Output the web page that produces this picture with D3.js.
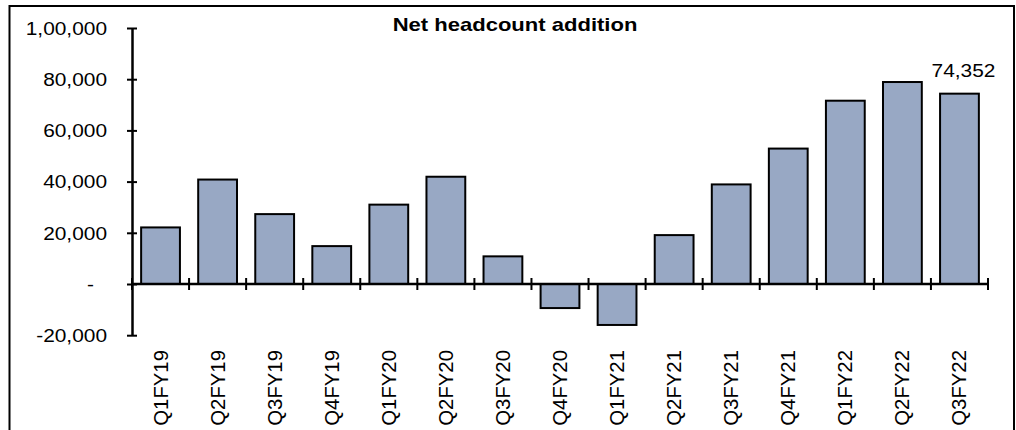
<!DOCTYPE html>
<html>
<head>
<meta charset="utf-8">
<script src="https://cdn.jsdelivr.net/npm/d3@7"></script>
<style>
  body { margin: 0; background: #fff; }
  text { font-family: "Liberation Sans", Arial, sans-serif; fill: #000; }
</style>
</head>
<body>
<svg id="chart" width="1016" height="430"></svg>
<script>
// chart data
var categories = ["Q1FY19", "Q2FY19", "Q3FY19", "Q4FY19", "Q1FY20", "Q2FY20", "Q3FY20", "Q4FY20",
                  "Q1FY21", "Q2FY21", "Q3FY21", "Q4FY21", "Q1FY22", "Q2FY22", "Q3FY22"];
var netAdds = [22100, 40800, 27300, 14800, 31000, 41900, 10800, -9400,
               -16000, 19100, 38900, 52900, 71600, 78900, 74352];
var yTicks = [-20000, 0, 20000, 40000, 60000, 80000, 100000];
var yTickLabels = ["-20,000", "-", "20,000", "40,000", "60,000", "80,000", "1,00,000"];
var labelIndex = [14];
var labelText = ["74,352"];
var title = "Net headcount addition";

var svg = d3.select("#chart");
var sx = 1.16; // the picture's text is a little wide

// outer frame
svg.append("rect")
    .attr("x", 9.5).attr("y", 6)
    .attr("width", 1004.5).attr("height", 440)
    .attr("fill", "none")
    .attr("stroke", "#000")
    .attr("stroke-width", 2);

var x = d3.scaleBand()
    .domain(categories)
    .range([132, 988])
    .paddingInner(0.32)
    .paddingOuter(0.16);

var y = d3.scaleLinear()
    .domain([-20000, 100000])
    .range([335.2, 28]);

// bars
svg.selectAll(".bar")
    .data(netAdds)
    .enter().append("rect")
    .attr("class", "bar")
    .attr("x", function (d, i) { return x(categories[i]); })
    .attr("y", function (d) { return y(Math.max(0, d)); })
    .attr("width", x.bandwidth())
    .attr("height", function (d) { return Math.abs(y(d) - y(0)); })
    .attr("fill", "#98a8c4")
    .attr("stroke", "#000")
    .attr("stroke-width", 2);

// y axis
var yAxis = svg.append("g")
    .attr("transform", "translate(132,0)")
    .call(d3.axisLeft(y).tickValues(yTicks).tickSizeOuter(0).tickSizeInner(5)
        .tickFormat(function (d, i) { return yTickLabels[i]; }));
yAxis.select(".domain").attr("stroke", "#000").attr("stroke-width", 2.5);
yAxis.selectAll(".tick line").attr("x1", -5).attr("x2", 5)
    .attr("stroke", "#000").attr("stroke-width", 2);
yAxis.selectAll(".tick text")
    .attr("x", null).attr("dy", "0.35em")
    .attr("font-size", 18)
    .attr("text-anchor", "end")
    .attr("transform", function (d) {
        return "translate(" + (d === 0 ? -38 : -25) + ",0) scale(" + sx + ",1)";
    });

// x axis along zero, ticks on category boundaries
svg.append("line")
    .attr("x1", 132).attr("x2", 988)
    .attr("y1", y(0)).attr("y2", y(0))
    .attr("stroke", "#000").attr("stroke-width", 2.5);

svg.selectAll(".xtick")
    .data(d3.range(categories.length + 1))
    .enter().append("line")
    .attr("class", "xtick")
    .attr("x1", function (i) { return 132 + i * x.step(); })
    .attr("x2", function (i) { return 132 + i * x.step(); })
    .attr("y1", y(0) - 6).attr("y2", y(0) + 6)
    .attr("stroke", "#000").attr("stroke-width", 2);

svg.selectAll(".xlabel")
    .data(categories)
    .enter().append("text")
    .attr("class", "xlabel")
    .attr("font-size", 18)
    .attr("text-anchor", "end")
    .attr("transform", function (d) {
        return "translate(" + (x(d) + x.bandwidth() / 2 + 7) + ",350) scale(" + sx + ",1.13) rotate(-90)";
    })
    .text(function (d) { return d; });

// data label
svg.selectAll(".dlabel")
    .data(labelIndex)
    .enter().append("text")
    .attr("class", "dlabel")
    .attr("font-size", 18)
    .attr("text-anchor", "middle")
    .attr("transform", function (d) {
        return "translate(" + (x(categories[d]) + x.bandwidth() / 2 + 4) + "," + (y(netAdds[d]) - 17) + ") scale(" + sx + ",1)";
    })
    .text(function (d, i) { return labelText[i]; });

// title
svg.append("text")
    .attr("font-size", 19)
    .attr("font-weight", "bold")
    .attr("text-anchor", "middle")
    .attr("transform", "translate(515,31) scale(" + sx + ",1)")
    .text(title);
</script>
</body>
</html>
